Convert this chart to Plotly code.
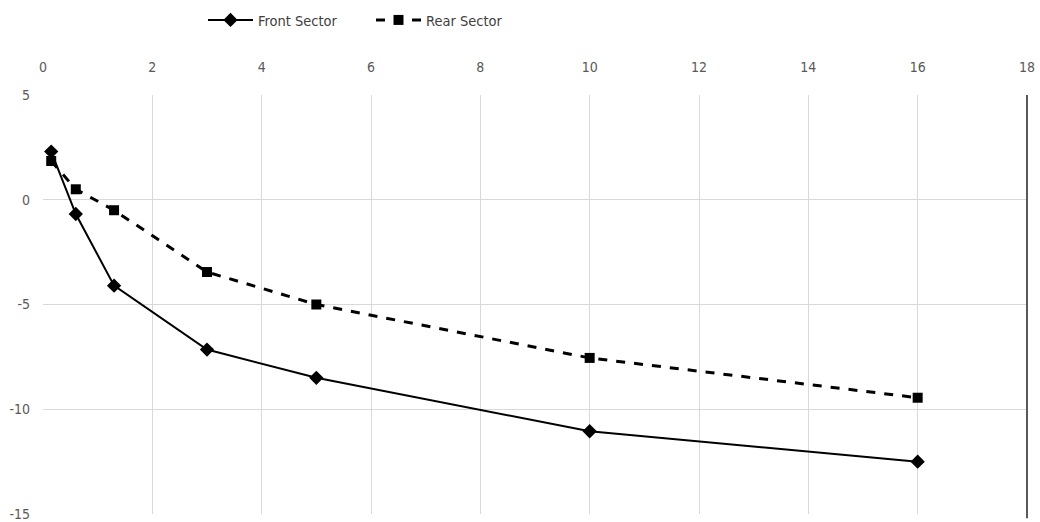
import plotly.graph_objects as go

x_vals = [0.15, 0.6, 1.3, 3, 5, 10, 16]
front_sector = [2.3, -0.68, -4.1, -7.15, -8.5, -11.05, -12.5]
rear_sector = [1.85, 0.5, -0.5, -3.45, -5.0, -7.55, -9.45]
x_ticks = [0, 2, 4, 6, 8, 10, 12, 14, 16, 18]
y_ticks = [5, 0, -5, -10, -15]

FONT = "DejaVu Sans Condensed, Liberation Sans Narrow, Roboto, Arial"

fig = go.Figure()
fig.add_trace(go.Scatter(
    x=x_vals, y=front_sector, name="Front Sector", mode="lines+markers",
    line=dict(color="black", width=2),
    marker=dict(symbol="diamond", size=11, color="black"),
))
fig.add_trace(go.Scatter(
    x=x_vals, y=rear_sector, name="Rear Sector", mode="lines+markers",
    line=dict(color="black", width=3, dash="dash"),
    marker=dict(symbol="square", size=10, color="black"),
))

fig.update_layout(
    width=1040, height=522,
    margin=dict(l=43, r=13, t=95, b=8, autoexpand=False),
    paper_bgcolor="white", plot_bgcolor="white",
    font=dict(family=FONT, size=14, color="#595959"),
    legend=dict(orientation="h", x=0.1626, y=1.179, xanchor="left", yanchor="middle",
                font=dict(family=FONT, size=14.5, color="#404040"),
                itemwidth=45, entrywidth=108, entrywidthmode="pixels",
                bgcolor="rgba(0,0,0,0)"),
    showlegend=True,
)
fig.update_xaxes(
    side="top", range=[0, 18], tickvals=x_ticks, ticktext=[str(v) for v in x_ticks],
    showgrid=True, gridcolor="#d9d9d9", gridwidth=1, zeroline=False,
    showline=False, ticks="", ticklabelstandoff=19, automargin=False,
)
fig.update_yaxes(
    range=[-15, 5], tickvals=y_ticks, ticktext=[str(v) for v in y_ticks],
    showgrid=True, gridcolor="#d9d9d9", gridwidth=1, zeroline=False,
    showline=False, ticks="", ticklabelstandoff=12, automargin=False,
)
fig.add_shape(type="line", xref="paper", yref="paper", x0=1, x1=1, y0=-0.01, y1=1,
              line=dict(color="#595959", width=2))

fig.write_html("out.html", config={"displayModeBar": False},
               post_script="document.body.style.margin='0';")
